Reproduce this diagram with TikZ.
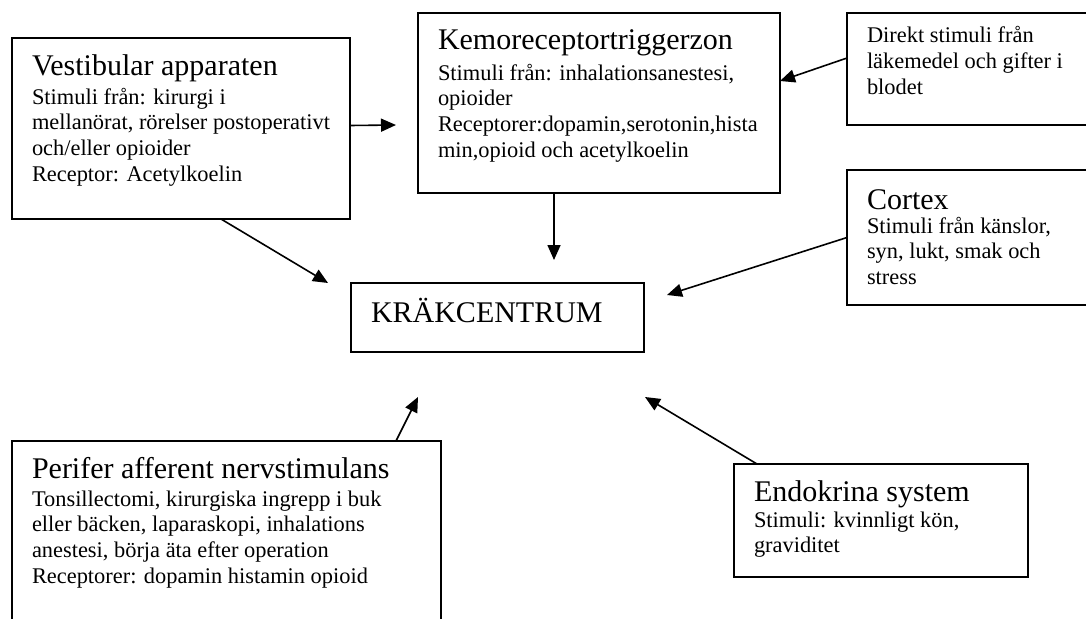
\documentclass[tikz,border=0pt]{standalone}
\usepackage{fontspec}
\setmainfont{Liberation Serif}
\usetikzlibrary{arrows.meta}

\newcommand\bodyfont{\fontsize{22.4}{25.9}\selectfont}
\newcommand\headline[3]{{\fontsize{30}{30}\selectfont\rule{0pt}{#1pt}#3\par}\vspace{#2pt}}
\newcommand\boxtext[3]{\parbox[t][#1pt][t]{#2pt}{\raggedright\rightskip=-18pt plus 1fil\relax #3}}

\tikzset{
  panel/.style={draw,line width=1.6pt,anchor=north west,inner xsep=20pt,inner ysep=0pt,outer sep=0pt},
  feed/.style={line width=1.6pt,-{Triangle[length=15pt,width=13pt]}}
}

\begin{document}
\begin{tikzpicture}[x=1pt,y=-1pt]
  \useasboundingbox (0,0) rectangle (1086,618);
  \clip (0,0) rectangle (1086,618);

  \node[panel] (vest) at (12,38) {\boxtext{181}{298}{%
    \headline{37}{3.1}{Vestibular apparaten}
    \bodyfont Stimuli från: kirurgi i\\ mellanörat, rörelser postoperativt\\ och/eller opioider\\ Receptor: Acetylkoelin}};
  \node[panel] (kemo) at (418,13) {\boxtext{180}{322}{%
    \headline{37}{4.1}{Kemoreceptortriggerzon}
    \bodyfont Stimuli från: inhalationsanestesi,\\ opioider\\ Receptorer:dopamin,serotonin,hista\\ min,opioid och acetylkoelin}};
  \node[panel] (direkt) at (847,13) {\boxtext{112}{213}{%
    \bodyfont\rule{0pt}{30pt}Direkt stimuli från\\ läkemedel och gifter i\\ blodet}};
  \node[panel] (cortex) at (847,170) {\boxtext{135}{213}{%
    \headline{39}{-1.9}{Cortex}
    \bodyfont Stimuli från känslor,\\ syn, lukt, smak och\\ stress}};
  \node[panel] (krak) at (351,283) {\boxtext{69}{253}{%
    \headline{39}{0}{KRÄKCENTRUM}}};
  \node[panel] (peri) at (12,441) {\boxtext{200}{389}{%
    \headline{37}{2.1}{Perifer afferent nervstimulans}
    \bodyfont Tonsillectomi, kirurgiska ingrepp i buk\\ eller bäcken, laparaskopi, inhalations\\ anestesi, börja äta efter operation\\ Receptorer: dopamin histamin opioid}};
  \node[panel] (endo) at (734,464) {\boxtext{113}{254}{%
    \headline{37}{0.1}{Endokrina system}
    \bodyfont Stimuli: kvinnligt kön,\\ graviditet}};

  % free arrow ends round the centre
  \coordinate (tipA) at (396,125);
  \coordinate (tipB) at (328,283);
  \coordinate (tipC) at (554,260);
  \coordinate (tipD) at (667,295);
  \coordinate (tipE) at (418,397);
  \coordinate (tipF) at (645,397);

  \draw[feed] ([yshift=3pt]vest.east) -- (tipA);
  \draw[feed] ([xshift=209pt]vest.south west) -- (tipB);
  \draw[feed] ([xshift=136pt]kemo.south west) -- (tipC);
  \draw[feed] ([yshift=11pt]direkt.west) -- ([yshift=22pt]kemo.east);
  \draw[feed] (cortex.west) -- (tipD);
  \draw[feed] ([xshift=384pt]peri.north west) -- (tipE);
  \draw[feed] ([xshift=23pt]endo.north west) -- (tipF);
\end{tikzpicture}
\end{document}
